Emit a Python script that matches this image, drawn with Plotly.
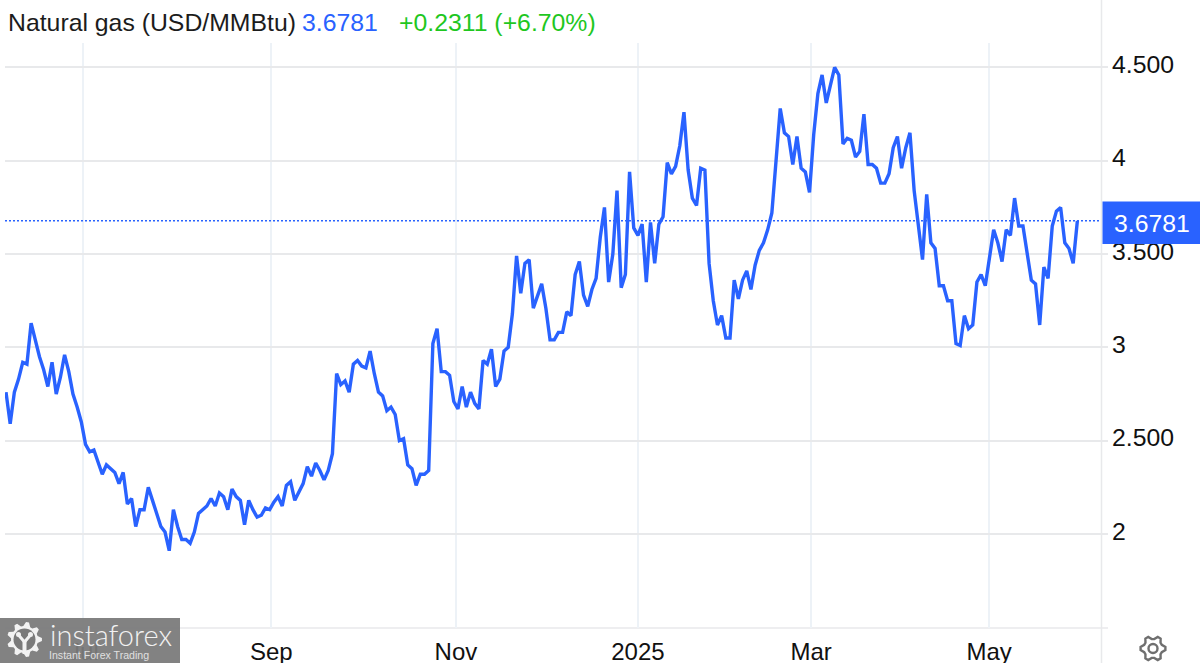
import numpy as np
import plotly.graph_objects as go

prices = [
2.76,2.59,2.76,2.83,2.92,2.91,3.13,3.04,2.95,2.88,2.79,2.92,2.75,2.84,2.96,2.87,2.75,2.68,2.60,2.48,
2.44,2.45,2.38,2.32,2.37,2.35,2.33,2.27,2.33,2.16,2.19,2.04,2.13,2.13,2.25,2.18,2.11,2.04,2.01,1.91,
2.13,2.04,1.97,1.97,1.95,2.01,2.11,2.13,2.15,2.19,2.15,2.22,2.20,2.13,2.24,2.20,2.18,2.05,2.18,2.13,
2.09,2.10,2.14,2.13,2.17,2.20,
2.15,2.26,2.28,2.18,2.23,2.27,2.36,2.31,2.38,2.34,2.29,2.34,2.43,2.86,2.80,2.82,2.76,2.91,2.93,2.90,
2.89,2.98,2.86,2.76,2.74,2.66,2.68,2.64,2.50,2.51,2.37,2.35,2.26,2.32,2.32,2.34,3.02,3.10,2.87,2.87,
2.85,2.71,2.67,2.79,2.68,2.76,2.70,2.67,2.93,2.91,2.99,2.79,2.83,2.98,3.00,3.18,3.49,3.29,3.45,3.47,
3.21,3.28,3.34,3.21,3.04,
3.04,3.08,3.08,3.19,3.17,3.39,3.46,3.28,3.22,3.31,3.37,3.59,3.75,3.35,3.50,3.84,3.32,3.39,3.94,3.64,
3.60,3.66,3.35,3.67,3.45,3.66,3.70,3.99,3.93,3.97,4.08,4.26,3.95,3.80,3.76,3.96,3.95,3.45,3.25,3.12,
3.17,3.05,3.05,3.36,3.26,3.36,3.41,3.31,3.44,3.52,3.56,3.63,3.72,4.02,4.28,4.15,4.13,3.98,4.13,3.96,
3.94,3.83,4.14,4.36,
4.46,4.31,4.41,4.50,4.46,4.09,4.12,4.11,4.02,4.05,4.25,3.98,3.98,3.96,3.88,3.88,3.93,4.07,4.13,3.96,
4.07,4.15,3.84,3.66,3.47,3.82,3.56,3.53,3.33,3.33,3.25,3.25,3.02,3.01,3.17,3.10,3.12,3.35,3.39,3.33,
3.48,3.63,3.56,3.46,3.63,3.60,3.80,3.65,3.65,3.49,3.36,3.34,3.12,3.43,3.37,3.65,3.73,3.75,3.56,3.53,
3.45,3.6781,
]
day_index = list(range(len(prices)))
last_price = 3.6781
x_tick_index = [18.5, 63.4, 107.5, 151, 192.4, 234.9]
x_tick_text = ["Jul", "Sep", "Nov", "2025", "Mar", "May"]
y_tick_values = [2, 2.5, 3, 3.5, 4, 4.5]
y_tick_text = ["2", "2.500", "3", "3.500", "4", "4.500"]

W, H = 1200, 663
L, R, T, B = 5, 1108, 43, 628
STEP = 4.185
BLUE = "#2962ff"
GRID = "#e8e9eb"
VGRID = "#edf2f7"
TEXT = "#111111"
FONT = "Liberation Sans, Arial, sans-serif"


def px(x):
    return (x - L) / (R - L)


def py(y):
    return (B - y) / (B - T)


def gear_path(cx, cy, outer, inner, hole, teeth):
    pts = []
    n = teeth * 4
    for k in range(n):
        a = 2 * np.pi * (k - 0.5) / n
        r = outer if k % 4 in (0, 1) else inner
        pts.append((cx + r * np.cos(a), cy + r * np.sin(a)))
    d = "M " + " L ".join(f"{px(a):.5f},{py(b):.5f}" for a, b in pts) + " Z"
    return d


fig = go.Figure()
fig.add_trace(go.Scatter(x=day_index, y=prices, mode="lines",
                         line=dict(color=BLUE, width=3.4, shape="linear"),
                         hoverinfo="skip", showlegend=False, cliponaxis=False))

shapes = []
# right axis rule and bottom rule
shapes.append(dict(type="line", xref="paper", yref="paper", x0=px(1101.5), x1=px(1101.5), y0=py(0), y1=py(663),
                   line=dict(color=GRID, width=1.5), layer="below"))
shapes.append(dict(type="line", xref="paper", yref="paper", x0=px(5), x1=px(1108), y0=py(628), y1=py(628),
                   line=dict(color=GRID, width=1.5), layer="below"))
# last price dotted line
shapes.append(dict(type="line", xref="paper", yref="y", x0=px(5), x1=px(1101), y0=last_price, y1=last_price,
                   line=dict(color=BLUE, width=1.4, dash="2px 2px"), layer="above"))
# price tag
shapes.append(dict(type="rect", xref="paper", yref="paper", x0=px(1102.5), x1=px(1200), y0=py(201.5), y1=py(244),
                   fillcolor=BLUE, line=dict(width=0), layer="above"))
# logo block
shapes.append(dict(type="rect", xref="paper", yref="paper", x0=px(0), x1=px(180), y0=py(618), y1=py(663),
                   fillcolor="rgba(122,122,122,0.94)", line=dict(width=0), layer="above"))
# logo gear, white with grey details
shapes.append(dict(type="path", xref="paper", yref="paper", path=gear_path(24.5, 639.5, 17.5, 13.5, 0, 9),
                   fillcolor="#f2f2f2", line=dict(width=0), layer="above"))
shapes.append(dict(type="circle", xref="paper", yref="paper", x0=px(13.5), x1=px(35.5), y0=py(628.5), y1=py(650.5),
                   fillcolor="#7a7a7a", line=dict(width=0), layer="above"))
for a, b, c, d in [(16, 632, 21, 637), (28, 632, 33, 637)]:
    shapes.append(dict(type="circle", xref="paper", yref="paper", x0=px(a), x1=px(c), y0=py(b), y1=py(d),
                       fillcolor="#f2f2f2", line=dict(width=0), layer="above"))
shapes.append(dict(type="path", xref="paper", yref="paper",
                   path="M {:.5f},{:.5f} L {:.5f},{:.5f} L {:.5f},{:.5f} L {:.5f},{:.5f}".format(
                       px(18.5), py(635), px(24.5), py(642), px(30.5), py(635), px(24.5), py(642)),
                   line=dict(color="#f2f2f2", width=3), layer="above"))
shapes.append(dict(type="line", xref="paper", yref="paper", x0=px(24.5), x1=px(24.5), y0=py(641), y1=py(654),
                   line=dict(color="#f2f2f2", width=4), layer="above"))
# settings gear
shapes.append(dict(type="path", xref="paper", yref="paper", path=gear_path(1153, 648.5, 12.5, 9.5, 0, 6),
                   fillcolor="rgba(0,0,0,0)", line=dict(color="#6f6f6f", width=2.4), layer="above"))
shapes.append(dict(type="circle", xref="paper", yref="paper", x0=px(1148.5), x1=px(1157.5), y0=py(644), y1=py(653),
                   fillcolor="rgba(0,0,0,0)", line=dict(color="#6f6f6f", width=2.4), layer="above"))


def note(x, y, text, size, color, anchor="left", family=FONT, weight=None):
    font = dict(family=family, size=size, color=color)
    if weight:
        font["weight"] = weight
    return dict(x=px(x), y=py(y), xref="paper", yref="paper", text=text, showarrow=False, xanchor=anchor,
                yanchor="middle", font=font, align="left", borderpad=0, borderwidth=0)


annotations = [
    note(8, 23, "Natural gas (USD/MMBtu)", 24.8, "#1c1c1c"),
    note(302, 23, f"{last_price:.4f}", 24.8, BLUE),
    note(399, 23, "+0.2311 (+6.70%)", 24.8, "#1fc71f"),
    note(1151.5, 223, f"{last_price:.4f}", 24.8, "#ffffff", anchor="center"),
    note(50, 634.5, "instaforex", 29, "#f2f2f2", family="Lato", weight=300),
    note(49, 654.5, "Instant Forex Trading", 10.6, "#e0e0e0", family="Liberation Sans"),
]

fig.update_layout(
    width=W, height=H, autosize=False,
    margin=dict(l=L, r=W - R, t=T, b=H - B, pad=0, autoexpand=False),
    paper_bgcolor="white", plot_bgcolor="white",
    font=dict(family=FONT, color=TEXT),
    showlegend=False, shapes=shapes, annotations=annotations,
    xaxis=dict(automargin=False, range=[(L - 6) / STEP, (R - 6) / STEP], tickmode="array", tickvals=x_tick_index,
               ticktext=x_tick_text,
               showgrid=True, gridcolor=VGRID, gridwidth=1.5, zeroline=False, showline=False, ticks="",
               ticklabelstandoff=7, tickfont=dict(size=24, color=TEXT, family=FONT)),
    yaxis=dict(automargin=False, range=[1.496, 4.631], side="right", tickmode="array", tickvals=y_tick_values,
               ticktext=y_tick_text,
               showgrid=True, gridcolor=GRID, gridwidth=1.5, zeroline=False, showline=False, ticks="",
               ticklabelstandoff=3, ticklabelshift=-3, tickfont=dict(size=24.8, color=TEXT, family=FONT)),
)
fig.write_html("out.html", config=dict(displayModeBar=False),
               post_script="document.body.style.margin='0';document.body.style.overflow='hidden';")
